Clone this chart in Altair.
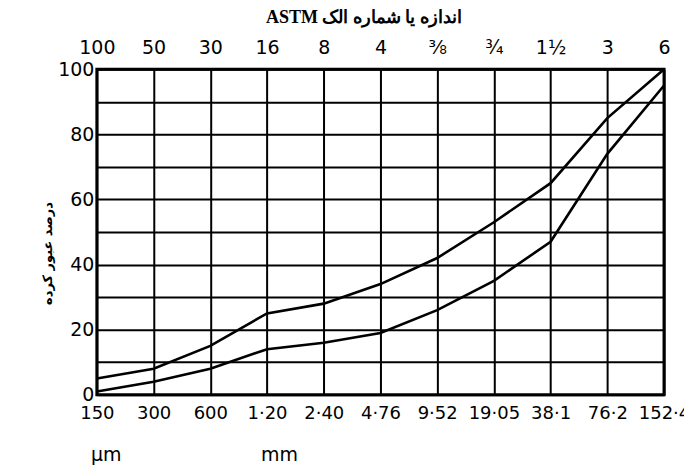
import altair as alt
import pandas as pd

# ---- data ----
sizes = ["150", "300", "600", "1·20", "2·40", "4·76", "9·52", "19·05", "38·1", "76·2", "152·4"]
astm = ["100", "50", "30", "16", "8", "4", "⅜", "¾", "1½", "3", "6"]
upper = [5, 8, 15, 25, 28, 34, 42, 53, 65, 85, 100]
lower = [1, 4, 8, 14, 16, 19, 26, 35, 47, 74, 95]
units = ["µm", "mm"]
unit_at = [0, 3]
y_ticks = list(range(0, 101, 10))

top_title = "\u202bاندازه یا شماره الک ASTM\u202c"
y_title = "درصد عبور کرده"

idx = list(range(len(sizes)))
df = pd.DataFrame({
    "i": idx * 2,
    "p": upper + lower,
    "curve": ["upper"] * len(upper) + ["lower"] * len(lower),
})
units_df = pd.DataFrame({"i": unit_at, "t": units})

W, H = 568, 326
FONT = "DejaVu Sans"

def arr_expr(lst):
    return "[" + ",".join("'" + s + "'" for s in lst) + "][datum.value]"

xscale = alt.Scale(domain=[0, len(sizes) - 1], nice=False, zero=False)

lines = alt.Chart(df).mark_line(color="black", strokeWidth=2.6).encode(
    x=alt.X("i:Q", scale=xscale, axis=alt.Axis(
        orient="bottom", values=idx, labelExpr=arr_expr(sizes), title=None,
        grid=True, gridColor="black", gridWidth=2, gridOpacity=1,
        ticks=False, domain=False, labelFont=FONT, labelFontSize=18,
        labelColor="black", labelPadding=10, labelFlush=False, labelOverlap=False)),
    y=alt.Y("p:Q", scale=alt.Scale(domain=[0, 100], nice=False), axis=alt.Axis(
        values=y_ticks, labelExpr="datum.value % 20 == 0 ? datum.label : ''",
        grid=True, gridColor="black", gridWidth=2, gridOpacity=1,
        ticks=False, domain=False, labelFont=FONT, labelFontSize=19,
        labelColor="black", labelPadding=3, labelFlush=False, labelOverlap=False,
        title=y_title, titleAngle=270, titleFont="DejaVu Sans", titleFontSize=13,
        titleFontWeight="bold", titleColor="black", titlePadding=3, titleY=184)),
    detail="curve:N",
)

unit_text = alt.Chart(units_df).mark_text(
    font=FONT, fontSize=19, color="black", align="left", baseline="middle", dx=-6
).encode(
    x=alt.X("i:Q", scale=xscale, axis=alt.Axis(
        orient="top", values=idx, labelExpr=arr_expr(astm),
        grid=False, ticks=False, domain=False, labelFont=FONT, labelFontSize=19,
        labelColor="black", labelPadding=12, labelFlush=False, labelOverlap=False,
        title=top_title, titleFont="Liberation Serif", titleFontSize=18,
        titleFontWeight="bold", titleColor="black", titlePadding=12,
        titleX=267, titleAlign="center")),
    y=alt.value(H + 60),
    text="t:N",
)

chart = alt.layer(lines, unit_text).resolve_axis(x="independent").properties(
    width=W, height=H,
    autosize=alt.AutoSizeParams(type="none"),
    padding={"left": 89, "top": 61, "right": 20, "bottom": 70},
    background="white",
).configure_view(stroke="black", strokeWidth=3)

chart.save("out.html", embed_options={"renderer": "svg", "actions": False})
